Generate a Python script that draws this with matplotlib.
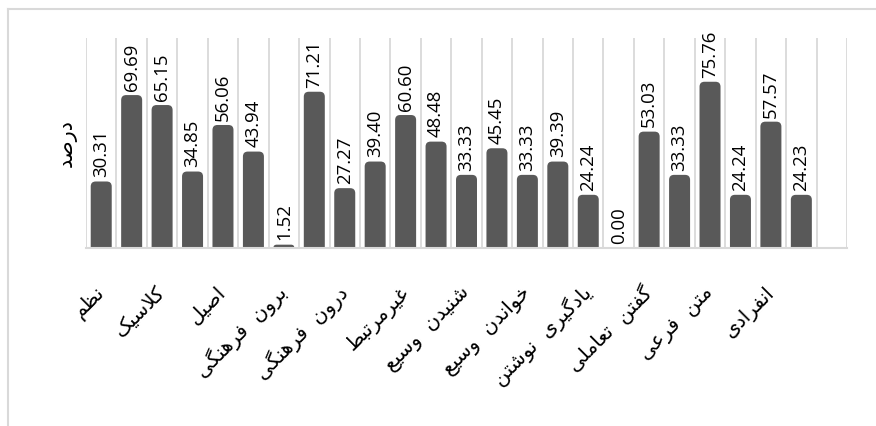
import numpy as np
import matplotlib
matplotlib.use("Agg")
import matplotlib.pyplot as plt
from matplotlib.lines import Line2D
from matplotlib.path import Path
from matplotlib.patches import PathPatch

# percentages, two bars per category; one empty slot is left at the end
values = [30.31, 69.69, 65.15, 34.85, 56.06, 43.94, 1.52, 71.21, 27.27, 39.40,
          60.60, 48.48, 33.33, 45.45, 33.33, 39.39, 24.24, 0.00, 53.03, 33.33,
          75.76, 24.24, 57.57, 24.23]
categories = ["نظم", "کلاسیک", "اصیل", "برون  فرهنگی", "درون  فرهنگی", "غیرمرتبط",
              "شنیدن  وسیع", "خواندن  وسیع", "یادگیری  نوشتن", "گفتن  تعاملی",
              "متن  فرعی", "انفرادی"]
y_label = "درصد"
n_slots = len(values) + 1

# matplotlib has no arabic shaping, so map letters to presentation forms
# (isolated, final, initial, medial) and reverse for left-to-right drawing
DUAL = {
    'ب': 0xFE8F, 'ت': 0xFE95, 'ث': 0xFE99, 'ج': 0xFE9D, 'ح': 0xFEA1, 'خ': 0xFEA5,
    'س': 0xFEB1, 'ش': 0xFEB5, 'ص': 0xFEB9, 'ض': 0xFEBD, 'ط': 0xFEC1, 'ظ': 0xFEC5,
    'ع': 0xFEC9, 'غ': 0xFECD, 'ف': 0xFED1, 'ق': 0xFED5, 'ک': 0xFB8E, 'گ': 0xFB92,
    'ل': 0xFEDD, 'م': 0xFEE1, 'ن': 0xFEE5, 'ه': 0xFEE9, 'ی': 0xFBFC,
}
RIGHT = {'ا': 0xFE8D, 'د': 0xFEA9, 'ذ': 0xFEAB, 'ر': 0xFEAD, 'ز': 0xFEAF, 'و': 0xFEED}


def shape(text):
    out = []
    i = 0
    n = len(text)
    while i < n:
        c = text[i]
        joins_prev = i > 0 and text[i - 1] in DUAL
        if c == 'ل' and i + 1 < n and text[i + 1] == 'ا':
            out.append(chr(0xFEFC if joins_prev else 0xFEFB))
            i += 2
            continue
        nxt = text[i + 1] if i + 1 < n else ''
        if c in DUAL:
            joins_next = nxt in DUAL or nxt in RIGHT
            if joins_prev and joins_next:
                form = 3
            elif joins_prev:
                form = 1
            elif joins_next:
                form = 2
            else:
                form = 0
            out.append(chr(DUAL[c] + form))
        elif c in RIGHT:
            out.append(chr(RIGHT[c] + (1 if joins_prev else 0)))
        else:
            out.append(c)
        i += 1
    return ''.join(reversed(out))


W, H = 876, 426
fig = plt.figure(figsize=(W / 100, H / 100), dpi=100)
ax_l, ax_r, ax_t, ax_b = 86, 847, 38, 248
ax = fig.add_axes([ax_l / W, 1 - ax_b / H, (ax_r - ax_l) / W, (ax_b - ax_t) / H])

ymax = 95.7
ax.set_xlim(-0.5, n_slots - 0.5)
ax.set_ylim(0, ymax)

bar_color = '#595959'
grid_color = '#d9d9d9'
x = np.arange(len(values))
bars = ax.bar(x, values, width=0.69, color=bar_color)

# swap the plain rectangles for ones with rounded top corners
px_x = (ax_r - ax_l) / n_slots
px_y = (ax_b - ax_t) / ymax
radius = 5.0
for b in bars:
    x0, w, h = b.get_x(), b.get_width(), b.get_height()
    b.remove()
    if h <= 0:
        continue
    ry = min(radius / px_y, h)
    rx = ry * px_y / px_x
    verts = [(x0, 0), (x0, h - ry), (x0, h), (x0 + rx, h), (x0 + w - rx, h),
             (x0 + w, h), (x0 + w, h - ry), (x0 + w, 0), (x0, 0)]
    codes = [Path.MOVETO, Path.LINETO, Path.CURVE3, Path.CURVE3, Path.LINETO,
             Path.CURVE3, Path.CURVE3, Path.LINETO, Path.CLOSEPOLY]
    ax.add_patch(PathPatch(Path(verts, codes), facecolor=bar_color, edgecolor='none', zorder=2))

for xi, v in zip(x, values):
    ax.annotate(f"{v:.2f}", (xi, v), xytext=(0, 3), textcoords='offset points',
                rotation=90, ha='center', va='bottom', fontsize=13.4,
                family='Open Sans', color='black')

# vertical gridlines between the slots
ax.set_xticks(np.arange(-0.5, n_slots), minor=True)
ax.grid(which='minor', axis='x', color=grid_color, lw=1.3, zorder=0)
ax.set_xticks(np.arange(0, 2 * len(categories), 2))
ax.set_xticklabels([shape(c) for c in categories], rotation=45, ha='right',
                   va='center', rotation_mode='anchor', fontsize=14.5,
                   family='DejaVu Sans')
ax.tick_params(axis='x', which='both', length=0, pad=30)
ax.set_yticks([])
for s in ('left', 'right', 'top'):
    ax.spines[s].set_visible(False)
ax.spines['bottom'].set_color(grid_color)
ax.spines['bottom'].set_linewidth(1.5)

fig.text(67 / W, 1 - 143 / H, shape(y_label), rotation=90, ha='center',
         va='center', fontsize=15, family='DejaVu Sans')

# chart frame
fig.add_artist(Line2D([8 / W, 1], [1 - 9 / H, 1 - 9 / H], transform=fig.transFigure,
                      color=grid_color, lw=1.5))
fig.add_artist(Line2D([8 / W, 8 / W], [0, 1 - 9 / H], transform=fig.transFigure,
                      color=grid_color, lw=1.5))

fig.savefig("out.png", dpi=100)
